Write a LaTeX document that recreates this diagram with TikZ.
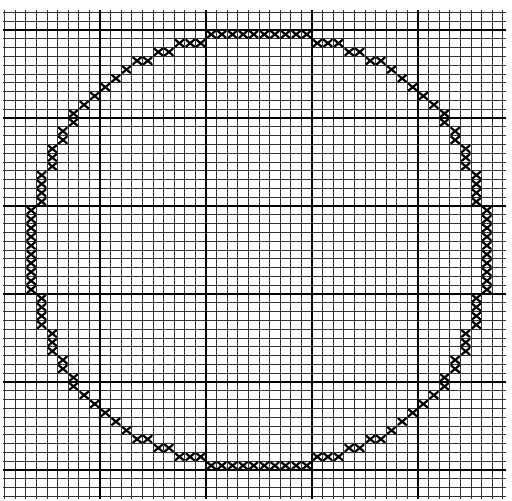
\documentclass[tikz,border=0pt]{standalone}
\newcommand\stitchat[2]{\draw[stitch] ({100+(#1)*10.6+1.3},{30+(#2)*8.8+1.1}) -- ++(8,6.6) ({100+(#1)*10.6+1.3},{30+(#2)*8.8+7.7}) -- ++(8,-6.6);}
\begin{document}
\begin{tikzpicture}[x=0.5pt,y=-0.5pt,
  thingrid/.style={line width=0.45pt,black!80},
  heavygrid/.style={line width=1.3pt,black},
  stitch/.style={line width=1.1pt,black,line cap=round}]
\fill[white] (0,0) rectangle (512,501);
\useasboundingbox (0,0) rectangle (512,501);
% thin grid
\foreach \k in {-9,...,38}{
  \pgfmathsetmacro\xx{100+\k*10.6}
  \draw[thingrid] (\xx,10) -- (\xx,499);
}
\foreach \j in {-2,...,53}{
  \pgfmathsetmacro\yy{30+\j*8.8}
  \draw[thingrid] (3,\yy) -- (506,\yy);
}
% heavy grid
\foreach \k in {0,10,20,30}{
  \pgfmathsetmacro\xx{100+\k*10.6}
  \draw[heavygrid] (\xx,10) -- (\xx,499);
}
\foreach \j in {0,10,20,30,40,50}{
  \pgfmathsetmacro\yy{30+\j*8.8}
  \draw[heavygrid] (3,\yy) -- (506,\yy);
}
% cross stitches (one quadrant, mirrored)
\foreach \c/\r in {10/0,11/0,12/0,13/0,14/0,7/1,8/1,9/1,5/2,6/2,3/3,4/3,2/4,1/5,0/6,-1/7,-2/8,-3/9,-3/10,-4/11,-4/12,-5/13,-5/14,-5/15,-6/16,-6/17,-6/18,-6/19,-7/20,-7/21,-7/22,-7/23,-7/24}{
  \stitchat{\c}{\r}
  \stitchat{29-\c}{\r}
  \stitchat{\c}{49-\r}
  \stitchat{29-\c}{49-\r}
}
\end{tikzpicture}
\end{document}
